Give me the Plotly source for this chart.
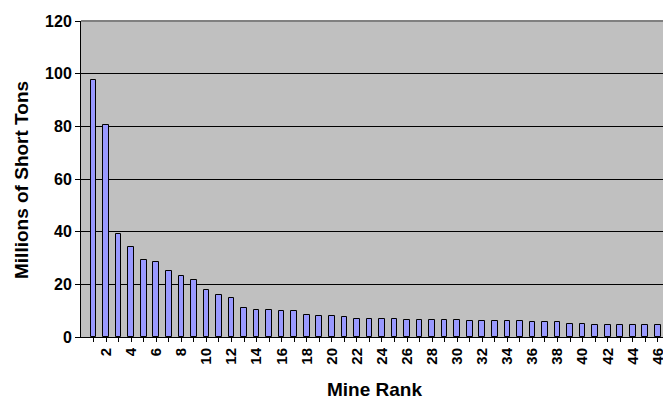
import plotly.graph_objects as go

ranks = list(range(1, 48))
tons = [97.7, 80.5, 39.2, 34.0, 29.1, 28.3, 25.2, 23.3, 21.7, 17.7,
        15.9, 15.0, 11.1, 10.2, 10.2, 9.8, 9.8, 8.4, 8.1, 8.1,
        7.7, 6.8, 6.7, 6.7, 6.7, 6.3, 6.3, 6.3, 6.3, 6.3,
        5.9, 5.9, 5.9, 5.9, 5.9, 5.6, 5.6, 5.6, 5.0, 5.0,
        4.5, 4.5, 4.5, 4.5, 4.5, 4.5, 4.2]
tick_labels = [str(r) if r % 2 == 0 else "" for r in ranks]
y_ticks = [0, 20, 40, 60, 80, 100, 120]
x_title = "Mine Rank"
y_title = "Millions of Short Tons"

FONT = "Liberation Sans, Arial, sans-serif"

# page has an 8px body margin, so figure is sized to fit the window
W, H = 663, 393
ML, MR, MT, MB = 73, 0, 13, 64
PW, PH = W - ML - MR, H - MT - MB


def px_to_paper(px, py):
    return (px - ML) / PW, 1 - (py - MT) / PH


fig = go.Figure()
fig.add_trace(go.Bar(
    x=ranks, y=tons, width=0.45,
    marker=dict(color="#9999FF", line=dict(color="black", width=1)),
))

fig.update_layout(
    width=W, height=H,
    margin=dict(l=ML, r=MR, t=MT, b=MB),
    paper_bgcolor="white",
    plot_bgcolor="#C0C0C0",
    showlegend=False,
    font=dict(family=FONT, color="black"),
    bargap=0,
)
fig.update_xaxes(
    range=[0, 47.05],
    tickmode="array", tickvals=ranks, ticktext=tick_labels,
    tickangle=-90,
    tickfont=dict(size=15, weight="bold"),
    ticks="outside", ticklen=4, tickcolor="black",
    showline=True, linecolor="black", linewidth=1,
    showgrid=False, zeroline=False,
)
fig.update_yaxes(
    range=[0, 120],
    tickmode="array", tickvals=y_ticks,
    tickfont=dict(size=16, weight="bold"),
    ticks="outside", ticklen=5, tickcolor="black",
    showline=True, linecolor="black", linewidth=1,
    showgrid=True, gridcolor="black", gridwidth=1,
    zeroline=False,
)
ax, ay = px_to_paper(366, 381)
fig.add_annotation(text=x_title, xref="paper", yref="paper", x=ax, y=ay,
                   showarrow=False, xanchor="center", yanchor="middle",
                   font=dict(size=19, weight="bold"))
bx, by = px_to_paper(13, 172)
fig.add_annotation(text=y_title, xref="paper", yref="paper", x=bx, y=by,
                   showarrow=False, xanchor="center", yanchor="middle",
                   textangle=-90, font=dict(size=19, weight="bold"))
fig.add_shape(type="line", xref="paper", yref="paper", x0=0, x1=1, y0=1, y1=1,
              line=dict(color="#808080", width=2), layer="above")
fig.add_shape(type="line", xref="paper", yref="paper", x0=1, x1=1, y0=0, y1=1,
              line=dict(color="#808080", width=2), layer="above")

fig.write_html("out.html")
